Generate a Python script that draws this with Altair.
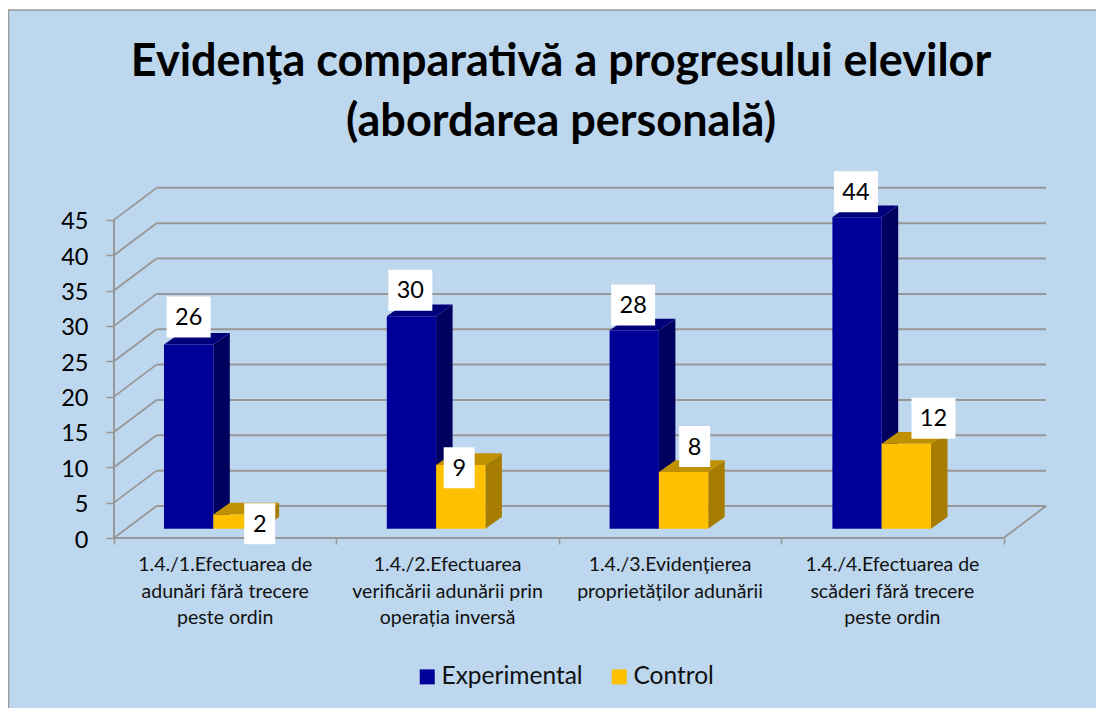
import altair as alt
import pandas as pd

TITLE_LINES = ["Evidenţa comparativă a progresului elevilor", "(abordarea personală)"]
CATEGORIES = [
    "1.4./1.Efectuarea de\nadunări fără trecere\npeste ordin",
    "1.4./2.Efectuarea\nverificării adunării prin\noperația inversă",
    "1.4./3.Evidențierea\nproprietăților adunării",
    "1.4./4.Efectuarea de\nscăderi fără trecere\npeste ordin",
]
EXPERIMENTAL = [26, 30, 28, 44]
CONTROL = [2, 9, 8, 12]
TICKS = [0, 5, 10, 15, 20, 25, 30, 35, 40, 45]
SERIES = ["Experimental", "Control"]

# hand-placed data-label nudges, as in the source chart (category units / value units)
EXP_NUDGE = [(0.0, 3.9), (-0.005, 3.7), (-0.005, 3.6), (-0.005, 3.6)]
CTL_NUDGE = [(0.098, -1.3), (-0.007, -0.4), (0.05, 3.6), (0.122, 3.6)]

FONT = "Lato"
GRID = "#979797"
FACE = {"Experimental": "#000099", "Control": "#FFC000"}
TOP = {"Experimental": "#00007A", "Control": "#BF9000"}
SIDE = {"Experimental": "#000060", "Control": "#A67D00"}

PX_X = 222.4
PX_Y = 7.07
W, H = 932, 351
X_MAX = W / PX_X
Y_MAX = H / PX_Y
WALL_DX, WALL_DY = 42.5 / PX_X, 32.0 / PX_Y
BAR_DX, BAR_DY = 16.5 / PX_X, 11.7 / PX_Y
BASE = 9.3 / PX_Y
BAR_W = 49.3 / PX_X
BAR_START = 50.0 / PX_X
BAR_STEP = 222.8 / PX_X
BAR_K = 7.08 / PX_Y
N = len(CATEGORIES)

xs = alt.Scale(domain=[0, X_MAX], nice=False, zero=False)
ys = alt.Scale(domain=[0, Y_MAX], nice=False, zero=False)

X_AXIS = alt.Axis(
    values=list(range(N + 1)), title=None, domain=False, grid=False, labels=False,
    tickColor=GRID, tickWidth=1.5, tickSize=6, zindex=1,
)
Y_AXIS = alt.Axis(
    values=TICKS, title=None, domain=False, grid=False,
    tickColor=GRID, tickWidth=1.5, tickSize=8, labelPadding=18, labelOffset=2,
    labelFont=FONT, labelFontSize=23.5, labelColor="#000000", zindex=1,
)


def X(f="x"):
    return alt.X(f"{f}:Q", scale=xs, axis=X_AXIS)


def Y(f="y"):
    return alt.Y(f"{f}:Q", scale=ys, axis=Y_AXIS)


faces, sides, tops, boxes = [], [], [], []
for i in range(N):
    for j, (s, vals, nudge) in enumerate(
        [(SERIES[0], EXPERIMENTAL, EXP_NUDGE), (SERIES[1], CONTROL, CTL_NUDGE)]
    ):
        xl = BAR_START + i * BAR_STEP + j * BAR_W
        xr = xl + BAR_W
        t = BASE + vals[i] * BAR_K
        bid = f"{s}{i}"
        faces.append(dict(series=s, x=xl, x2=xr, y=BASE, y2=t))
        sides += [
            dict(series=s, id=bid, x=xr, lo=BASE, hi=t),
            dict(series=s, id=bid, x=xr + BAR_DX, lo=BASE + BAR_DY, hi=t + BAR_DY),
        ]
        tops += [
            dict(series=s, id=bid, y=t, x=xl, x2=xr),
            dict(series=s, id=bid, y=t + BAR_DY, x=xl + BAR_DX, x2=xr + BAR_DX),
        ]
        cx = (xl + xr) / 2 + nudge[i][0]
        cy = t + nudge[i][1]
        hw = (22 if vals[i] >= 10 else 15.5) / PX_X
        hh = 20.5 / PX_Y
        boxes.append(dict(label=str(vals[i]), cx=cx, cy=cy, x=cx - hw, x2=cx + hw, y=cy - hh, y2=cy + hh))

faces, sides, tops, boxes = map(pd.DataFrame, (faces, sides, tops, boxes))

panel = (
    alt.Chart(pd.DataFrame({"a": [0]}))
    .mark_rect(fill="#BDD7EE", stroke="#9A9A9A", strokeWidth=1.5)
    .encode(x=alt.value(-105.5), x2=alt.value(W + 70), y=alt.value(-177), y2=alt.value(H + 190))
)

# back wall
back = pd.DataFrame({"y": [v + WALL_DY for v in TICKS]})
back["x"] = WALL_DX
back["x2"] = X_MAX
back_l = (
    alt.Chart(back).mark_rule(color=GRID, strokeWidth=2)
    .encode(x=X(), x2="x2:Q", y=Y())
)

# side wall and floor diagonals
diag = pd.DataFrame(
    [dict(t=v, x=0, y=v) for v in TICKS] + [dict(t=v, x=WALL_DX, y=v + WALL_DY) for v in TICKS]
)
diag_l = (
    alt.Chart(diag).mark_line(color=GRID, strokeWidth=1.8)
    .encode(x=X(), y=Y(), detail="t:N")
)
right_floor = pd.DataFrame(
    [dict(x=X_MAX - WALL_DX, y=0), dict(x=X_MAX, y=WALL_DY)]
)
right_l = alt.Chart(right_floor).mark_line(color=GRID, strokeWidth=1.8).encode(x=X(), y=Y())

front = pd.DataFrame([dict(x=0, x2=X_MAX - WALL_DX, y=0)])
front_l = (
    alt.Chart(front).mark_rule(color=GRID, strokeWidth=2)
    .encode(x=X(), x2="x2:Q", y=Y())
)

# left edge of the side wall
left = pd.DataFrame({"y": [0, 45], "x": [0, 0]})
left_l = alt.Chart(left).mark_line(color=GRID, strokeWidth=2).encode(x=X(), y=Y())

cat_df = pd.DataFrame({"label": CATEGORIES, "x": [i + 0.5 for i in range(N)]})
cat_text = (
    alt.Chart(cat_df)
    .mark_text(font=FONT, fontSize=19.5, lineBreak="\n", lineHeight=26.5, baseline="top", color="#111111")
    .encode(x=X(), y=alt.value(H + 18), text="label:N")
)

layers = [panel, back_l, diag_l, right_l, front_l, left_l, cat_text]
color = alt.Color(
    "series:N",
    scale=alt.Scale(domain=SERIES, range=[FACE[s] for s in SERIES]),
    legend=alt.Legend(
        orient="none", legendX=301, legendY=477.5, direction="horizontal", title=None,
        symbolType="square", symbolSize=225, symbolStrokeWidth=0,
        labelFont=FONT, labelFontSize=24.5, labelColor="#111111", labelOffset=2, columnPadding=24,
    ),
)
for s in SERIES:
    layers.append(
        alt.Chart(sides[sides.series == s]).mark_area(color=SIDE[s], orient="vertical")
        .encode(x=X(), y=Y("lo"), y2="hi:Q", detail="id:N")
    )
    layers.append(
        alt.Chart(tops[tops.series == s]).mark_area(color=TOP[s], orient="horizontal")
        .encode(y=Y(), x=X(), x2="x2:Q", detail="id:N")
    )
    layers.append(
        alt.Chart(faces[faces.series == s]).mark_rect()
        .encode(x=X(), x2="x2:Q", y=Y(), y2="y2:Q", color=color)
    )

layers.append(
    alt.Chart(boxes).mark_rect(fill="#FFFFFF")
    .encode(x=X(), x2="x2:Q", y=Y(), y2="y2:Q")
)
layers.append(
    alt.Chart(boxes).mark_text(font=FONT, fontSize=23.5, color="#000000", dy=1)
    .encode(x=X("cx"), y=Y("cy"), text="label:N")
)

chart = (
    alt.layer(*layers)
    .properties(
        width=W, height=H,
        padding={"left": 106, "top": 179, "right": 50, "bottom": 170},
        autosize=alt.AutoSizeParams(type="none"),
        background="#FFFFFF",
        title=alt.TitleParams(
            text=TITLE_LINES, font=FONT, fontSize=45, fontWeight="bold", color="#000000",
            lineHeight=60, anchor="middle", dx=-19, offset=0, dy=171.5, baseline="alphabetic",
        ),
    )
    .configure_view(stroke=None)
)
chart.save("out.html", embed_options={"renderer": "svg", "actions": False})
